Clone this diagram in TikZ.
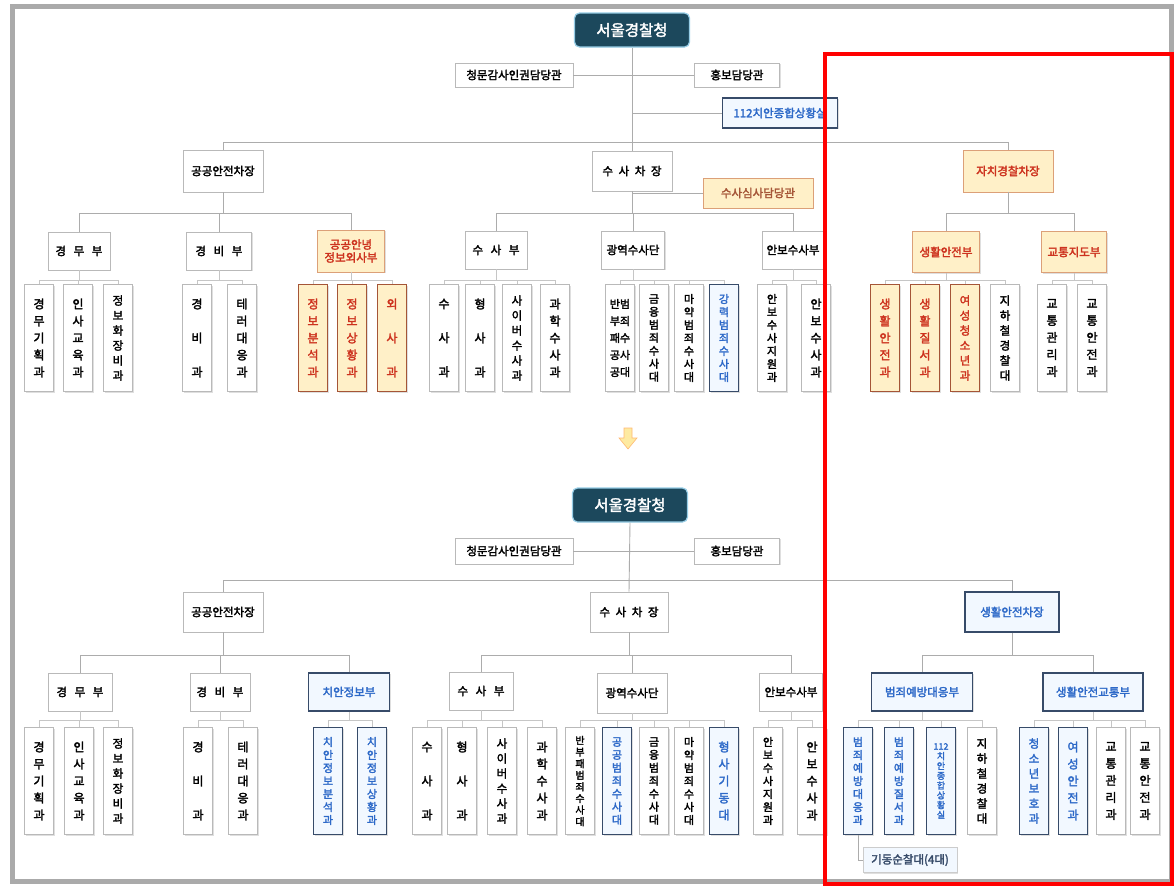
\documentclass[tikz,border=0pt]{standalone}
\usepackage{fontspec}
\newfontfamily\kr{Noto Sans CJK KR}[AutoFakeBold=2.4]
\usetikzlibrary{shadows}
\definecolor{hqfill}{RGB}{28,72,92}
\definecolor{hqedge}{RGB}{150,205,230}
\definecolor{ofill}{RGB}{255,240,200}
\definecolor{oedge}{RGB}{220,160,120}
\definecolor{odark}{RGB}{165,85,55}
\definecolor{otext}{RGB}{205,50,30}
\definecolor{bedge}{RGB}{55,75,105}
\definecolor{btext}{RGB}{45,105,200}
\definecolor{bfill}{RGB}{242,248,255}
\definecolor{framegray}{RGB}{170,170,170}
\newcommand{\branch}[6]{%
  \draw[#1] (#2.south) -- (#2.south |- #3);
  \draw[#1] (#4.north |- #3) -- (#5.north |- #3);
  \foreach \ch in {#6} {\draw[#1] (\ch.north |- #3) -- (\ch.north);}
}
\begin{document}
\begin{tikzpicture}[x=1pt,y=-1pt,
  main/.style={draw=gray!65, line width=0.9pt},
  sub/.style={draw=gray!45, line width=0.6pt},
  box/.style={draw=gray!55, fill=white, line width=0.7pt, inner sep=1pt, align=center,
    font=\kr\bfseries\fontsize{11.5}{13}\selectfont,
    drop shadow={shadow xshift=1pt,shadow yshift=-1pt,opacity=0.25,fill=gray}},
  hbox/.style={box, minimum height=38pt},
  vbox/.style={box, minimum width=29pt, minimum height=107pt, inner sep=0pt},
  v3/.style={font=\kr\bfseries\fontsize{12}{34}\selectfont},
  v5/.style={font=\kr\bfseries\fontsize{12}{17}\selectfont},
  v6/.style={font=\kr\bfseries\fontsize{11.5}{15}\selectfont},
  v7/.style={font=\kr\bfseries\fontsize{11}{13}\selectfont},
  v8/.style={font=\kr\bfseries\fontsize{10}{11.6}\selectfont},
  v10/.style={font=\kr\bfseries\fontsize{9}{9.8}\selectfont},
  ostyle/.style={fill=ofill, draw=oedge, text=otext},
  othick/.style={fill=ofill, draw=odark, line width=1.6pt, text=otext},
  bstyle/.style={fill=bfill, draw=bedge, line width=1.8pt, text=btext},
  hq/.style={fill=hqfill, draw=hqedge, line width=1.2pt, rounded corners=5pt, text=white,
    font=\kr\bfseries\fontsize{15.5}{17}\selectfont, minimum width=115pt, minimum height=34pt}]
\useasboundingbox (0,0) rectangle (1175,887);
\fill[white] (0,0) rectangle (1175,887);
\draw[framegray, line width=5pt] (12,6) rectangle (1171,881);

\coordinate (yA1) at (0,142);
\coordinate (yA2) at (0,213);
\coordinate (yA3) at (0,280);
\coordinate (yB1) at (0,580);
\coordinate (yB2) at (0,655);
\coordinate (yB3) at (0,720);

% ================= TOP CHART =================
\node[hq] (hqA) at (632,30) {서울경찰청};
\node[box, minimum width=118pt, minimum height=24pt] (cheongA) at (514,75) {청문감사인권담당관};
\node[box, minimum width=85pt, minimum height=24pt] (hongA) at (737,75) {홍보담당관};
\node[box, bstyle, minimum width=115pt, minimum height=30pt] (sitA) at (780,113) {112치안종합상황실};
\node[box, minimum width=80pt, minimum height=42pt] (gongA) at (223,171) {공공안전차장};
\node[box, minimum width=80pt, minimum height=40pt] (suA) at (632,171) {수\hspace{3pt} 사\hspace{3pt} 차\hspace{3pt} 장};
\node[box, ostyle, minimum width=90pt, minimum height=42pt] (jaA) at (1008,171) {자치경찰차장};
\node[box, ostyle, text=odark, minimum width=110pt, minimum height=30pt] (susimA) at (758,193) {수사심사담당관};

\node[hbox, minimum width=62pt] (d1A) at (79,251) {경\hspace{5pt} 무\hspace{5pt} 부};
\node[hbox, minimum width=65pt] (d2A) at (219,251) {경\hspace{5pt} 비\hspace{5pt} 부};
\node[hbox, ostyle, minimum width=67pt, minimum height=42pt] (d3A) at (351,251) {공공안녕\\정보외사부};
\node[hbox, minimum width=62pt] (d4A) at (496,250) {수\hspace{5pt} 사\hspace{5pt} 부};
\node[hbox, minimum width=63pt] (d5A) at (633,250) {광역수사단};
\node[hbox, minimum width=62pt] (d6A) at (793,250) {안보수사부};
\node[hbox, ostyle, minimum width=67pt, minimum height=41pt] (d7A) at (946,252) {생활안전부};
\node[hbox, ostyle, minimum width=65pt, minimum height=41pt] (d8A) at (1074,252) {교통지도부};

\node[vbox,v5] (a1) at (39,338) {경\\무\\기\\획\\과};
\node[vbox,v5] (a2) at (78,338) {인\\사\\교\\육\\과};
\node[vbox,v6] (a3) at (118,338) {정\\보\\화\\장\\비\\과};
\node[vbox,v3] (a4) at (197,338) {경\\비\\과};
\node[vbox,v5] (a5) at (242,338) {테\\러\\대\\응\\과};
\node[vbox,v5,othick] (a6) at (313,338) {정\\보\\분\\석\\과};
\node[vbox,v5,othick] (a7) at (352,338) {정\\보\\상\\황\\과};
\node[vbox,v3,othick] (a8) at (392,338) {외\\사\\과};
\node[vbox,v3] (a9) at (444,338) {수\\사\\과};
\node[vbox,v3] (a10) at (480,338) {형\\사\\과};
\node[vbox,v6] (a11) at (517,338) {사\\이\\버\\수\\사\\과};
\node[vbox,v5] (a12) at (555,338) {과\\학\\수\\사\\과};
\node[vbox,v5,font=\kr\bfseries\fontsize{11}{17}\selectfont] (a13) at (620,338) {반범\\부죄\\패수\\공사\\공대};
\node[vbox,v7] (a14) at (654,338) {금\\융\\범\\죄\\수\\사\\대};
\node[vbox,v7] (a15) at (689,338) {마\\약\\범\\죄\\수\\사\\대};
\node[vbox,v7,bstyle] (a16) at (724,338) {강\\력\\범\\죄\\수\\사\\대};
\node[vbox,v7] (a17) at (772,338) {안\\보\\수\\사\\지\\원\\과};
\node[vbox,v5] (a18) at (816,338) {안\\보\\수\\사\\과};
\node[vbox,v5,othick] (a19) at (885,338) {생\\활\\안\\전\\과};
\node[vbox,v5,othick] (a20) at (925,338) {생\\활\\질\\서\\과};
\node[vbox,v6,othick] (a21) at (965,338) {여\\성\\청\\소\\년\\과};
\node[vbox,v6] (a22) at (1005,338) {지\\하\\철\\경\\찰\\대};
\node[vbox,v5] (a23) at (1052,338) {교\\통\\관\\리\\과};
\node[vbox,v5] (a24) at (1092,338) {교\\통\\안\\전\\과};

\draw[main] (hqA.south) -- (suA.north);
\draw[main] (cheongA.east) -- (hongA.west);
\draw[main] (sitA.west) -- (sitA.west -| hqA.south);
\draw[main] (gongA.north) -- (gongA.north |- yA1) -- (jaA.north |- yA1) -- (jaA.north);
\draw[main] (susimA.west) -- (susimA.west -| suA.south);
\branch{main}{gongA}{yA2}{d1A}{d3A}{d1A,d2A,d3A}
\branch{main}{suA}{yA2}{d4A}{d6A}{d4A,d5A,d6A}
\branch{main}{jaA}{yA2}{d7A}{d8A}{d7A,d8A}
\branch{sub}{d1A}{yA3}{a1}{a3}{a1,a2,a3}
\branch{sub}{d2A}{yA3}{a4}{a5}{a4,a5}
\branch{sub}{d3A}{yA3}{a6}{a8}{a6,a7,a8}
\branch{sub}{d4A}{yA3}{a9}{a12}{a9,a10,a11,a12}
\branch{sub}{d5A}{yA3}{a13}{a16}{a13,a14,a15,a16}
\branch{sub}{d6A}{yA3}{a17}{a18}{a17,a18}
\branch{sub}{d7A}{yA3}{a19}{a22}{a19,a20,a21,a22}
\branch{sub}{d8A}{yA3}{a23}{a24}{a23,a24}

% arrow
\filldraw[fill=yellow!60!orange!35, draw=orange!55, line width=0.6pt]
  (624,428) -- (632,428) -- (632,438) -- (637,438) -- (628,449) -- (619,438) -- (624,438) -- cycle;

% ================= BOTTOM CHART =================
\node[hq] (hqB) at (630,505) {서울경찰청};
\node[box, minimum width=118pt, minimum height=26pt] (cheongB) at (514,551) {청문감사인권담당관};
\node[box, minimum width=85pt, minimum height=26pt] (hongB) at (737,551) {홍보담당관};
\node[box, minimum width=80pt, minimum height=40pt] (gongB) at (223,612) {공공안전차장};
\node[box, minimum width=78pt, minimum height=40pt] (suB) at (629,612) {수\hspace{3pt} 사\hspace{3pt} 차\hspace{3pt} 장};
\node[box, bstyle, minimum width=94pt, minimum height=40pt] (saB) at (1012,612) {생활안전차장};

\node[hbox, minimum width=64pt] (e1) at (80,692) {경\hspace{5pt} 무\hspace{5pt} 부};
\node[hbox, minimum width=60pt] (e2) at (220,692) {경\hspace{5pt} 비\hspace{5pt} 부};
\node[hbox, bstyle, minimum width=81pt] (e3) at (349,692) {치안정보부};
\node[hbox, minimum width=64pt] (e4) at (481,691) {수\hspace{5pt} 사\hspace{5pt} 부};
\node[hbox, minimum width=70pt, minimum height=40pt] (e5) at (632,693) {광역수사단};
\node[hbox, minimum width=63pt] (e6) at (791,692) {안보수사부};
\node[hbox, bstyle, minimum width=101pt] (e7) at (922,692) {범죄예방대응부};
\node[hbox, bstyle, minimum width=100pt] (e8) at (1093,692) {생활안전교통부};

\node[vbox,v5] (b1) at (39,781) {경\\무\\기\\획\\과};
\node[vbox,v5] (b2) at (79,781) {인\\사\\교\\육\\과};
\node[vbox,v6] (b3) at (118,781) {정\\보\\화\\장\\비\\과};
\node[vbox,v3] (b4) at (198,781) {경\\비\\과};
\node[vbox,v5] (b5) at (243,781) {테\\러\\대\\응\\과};
\node[vbox,v7,bstyle] (b6) at (328,781) {치\\안\\정\\보\\분\\석\\과};
\node[vbox,v7,bstyle] (b7) at (372,781) {치\\안\\정\\보\\상\\황\\과};
\node[vbox,v3] (b8) at (427,781) {수\\사\\과};
\node[vbox,v3] (b9) at (462,781) {형\\사\\과};
\node[vbox,v6] (b10) at (502,781) {사\\이\\버\\수\\사\\과};
\node[vbox,v5] (b11) at (542,781) {과\\학\\수\\사\\과};
\node[vbox,v8] (b12) at (580,781) {반\\부\\패\\범\\죄\\수\\사\\대};
\node[vbox,v7,bstyle] (b13) at (617,781) {공\\공\\범\\죄\\수\\사\\대};
\node[vbox,v7] (b14) at (654,781) {금\\융\\범\\죄\\수\\사\\대};
\node[vbox,v7] (b15) at (689,781) {마\\약\\범\\죄\\수\\사\\대};
\node[vbox,v5,bstyle] (b16) at (724,781) {형\\사\\기\\동\\대};
\node[vbox,v7] (b17) at (768,781) {안\\보\\수\\사\\지\\원\\과};
\node[vbox,v5] (b18) at (812,781) {안\\보\\수\\사\\과};
\node[vbox,v7,bstyle] (b19) at (858,781) {범\\죄\\예\\방\\대\\응\\과};
\node[vbox,v7,bstyle] (b20) at (899,781) {범\\죄\\예\\방\\질\\서\\과};
\node[vbox,v10,bstyle] (b21) at (941,781) {112\\치\\안\\종\\합\\상\\황\\실};
\node[vbox,v6] (b22) at (982,781) {지\\하\\철\\경\\찰\\대};
\node[vbox,v6,bstyle] (b23) at (1034,781) {청\\소\\년\\보\\호\\과};
\node[vbox,v5,bstyle] (b24) at (1073,781) {여\\성\\안\\전\\과};
\node[vbox,v5] (b25) at (1111,781) {교\\통\\관\\리\\과};
\node[vbox,v5] (b26) at (1145,781) {교\\통\\안\\전\\과};
\node[box, draw=gray!40, fill=bfill, text=bedge, minimum width=94pt, minimum height=25pt] (gidong) at (910,860) {기동순찰대(4대)};

\draw[main] (hqB.south) -- (suB.north);
\draw[main] (cheongB.east) -- (hongB.west);
\draw[main] (gongB.north) -- (gongB.north |- yB1) -- (saB.north |- yB1) -- (saB.north);
\branch{main}{gongB}{yB2}{e1}{e3}{e1,e2,e3}
\branch{main}{suB}{yB2}{e4}{e6}{e4,e5,e6}
\branch{main}{saB}{yB2}{e7}{e8}{e7,e8}
\branch{sub}{e1}{yB3}{b1}{b3}{b1,b2,b3}
\branch{sub}{e2}{yB3}{b4}{b5}{b4,b5}
\branch{sub}{e3}{yB3}{b6}{b7}{b6,b7}
\branch{sub}{e4}{yB3}{b8}{b11}{b8,b9,b10,b11}
\branch{sub}{e5}{yB3}{b12}{b16}{b12,b13,b14,b15,b16}
\branch{sub}{e6}{yB3}{b17}{b18}{b17,b18}
\branch{sub}{e7}{yB3}{b19}{b22}{b19,b20,b21,b22}
\branch{sub}{e8}{yB3}{b23}{b26}{b23,b24,b25,b26}
\draw[main] (b19.south) |- (gidong.west);

% red highlight
\draw[red, line width=3.5pt] (825,54) rectangle (1172,884);
\end{tikzpicture}
\end{document}
